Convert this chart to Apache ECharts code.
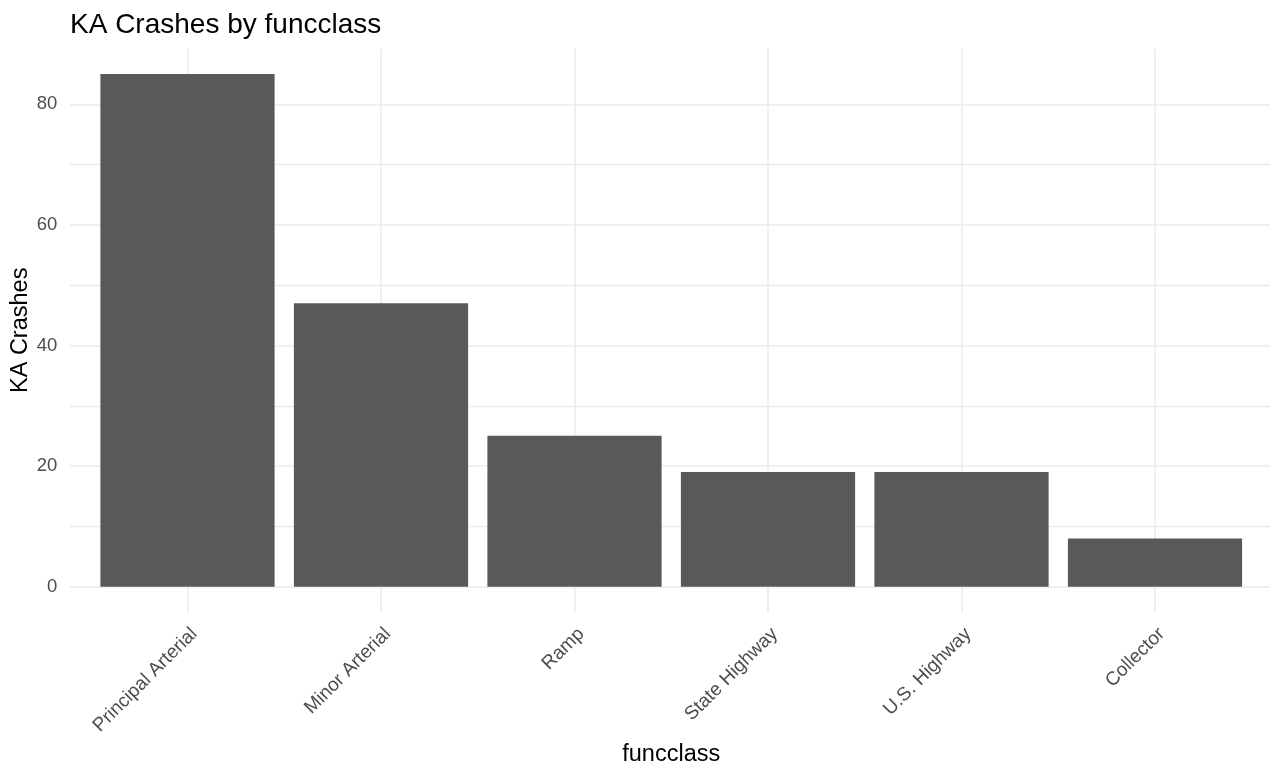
<!DOCTYPE html>
<html>
<head>
<meta charset="utf-8">
<script src="https://cdn.jsdelivr.net/npm/echarts@6/dist/echarts.min.js"></script>
<style>
html,body{margin:0;padding:0;background:#fff;}
#chart{width:1283px;height:769px;}
</style>
</head>
<body>
<div id="chart"></div>
<script>
const chartTitle = 'KA Crashes by funcclass';
const categories = ['Principal Arterial', 'Minor Arterial', 'Ramp', 'State Highway', 'U.S. Highway', 'Collector'];
const crashes = [85, 47, 25, 19, 19, 8];
const yMajorStep = 20;
const yMax = 80;
const xTitle = 'funcclass';
const yTitle = 'KA Crashes';

const font = '"Liberation Sans", Arial, sans-serif';
const chart = echarts.init(document.getElementById('chart'), null, {renderer: 'canvas'});

// panel: x 70..1270, y 48.3..612.3 ; y = 0 at 586.7, 80 at 104.3
const barData = categories.map((c, i) => [i, crashes[i]]);

chart.setOption({
  animation: false,
  backgroundColor: '#ffffff',
  title: {
    text: chartTitle,
    left: 70, top: 11, padding: 0,
    textStyle: {fontFamily: font, fontSize: 28, fontWeight: 'normal', color: '#000'}
  },
  grid: [
    {left: 187.5, right: 128, top: 48.3, bottom: 156.7, containLabel: false, outerBoundsMode: 'none'},
    {left: 70, right: 13, top: 104.3, bottom: 182.3, containLabel: false, outerBoundsMode: 'none'}
  ],
  xAxis: [
    {
      type: 'value', gridIndex: 0, min: 0, max: categories.length - 1, interval: 1,
      axisLine: {show: false}, axisTick: {show: false},
      splitLine: {show: true, lineStyle: {color: '#EBEBEB', width: 1.6}},
      axisLabel: {
        show: true, rotate: 45, margin: 12, verticalAlign: 'top', padding: [0, 0, 0, 0],
        showMinLabel: true, showMaxLabel: true, hideOverlap: false,
        fontFamily: font, fontSize: 19, color: '#4D4D4D',
        formatter: v => categories[Math.round(v)]
      },
      name: xTitle, nameLocation: 'middle', nameGap: 128,
      nameTextStyle: {fontFamily: font, fontSize: 23.5, color: '#000'}
    },
    {type: 'value', gridIndex: 1, min: 0, max: 1, show: false}
  ],
  yAxis: [
    {
      type: 'value', gridIndex: 0, min: -4.25, max: 89.25,
      axisLine: {show: false}, axisTick: {show: false}, axisLabel: {show: false},
      splitLine: {show: false},
      name: yTitle, nameLocation: 'middle', nameRotate: 90, nameGap: 155,
      nameTextStyle: {fontFamily: font, fontSize: 23.5, color: '#000'}
    },
    {
      type: 'value', gridIndex: 1, min: 0, max: yMax, interval: yMajorStep,
      axisLine: {show: false}, axisTick: {show: false},
      axisLabel: {fontFamily: font, fontSize: 18.5, color: '#4D4D4D', margin: 12.7},
      splitLine: {show: true, lineStyle: {color: '#EBEBEB', width: 1.6}},
      minorTick: {show: false, splitNumber: 2},
      minorSplitLine: {show: true, lineStyle: {color: '#EBEBEB', width: 1.3}}
    }
  ],
  series: [
    {
      type: 'bar', xAxisIndex: 0, yAxisIndex: 0,
      data: barData, barWidth: 174.2, clip: false,
      itemStyle: {color: '#595959'},
      z: 5
    }
  ]
});
</script>
</body>
</html>
